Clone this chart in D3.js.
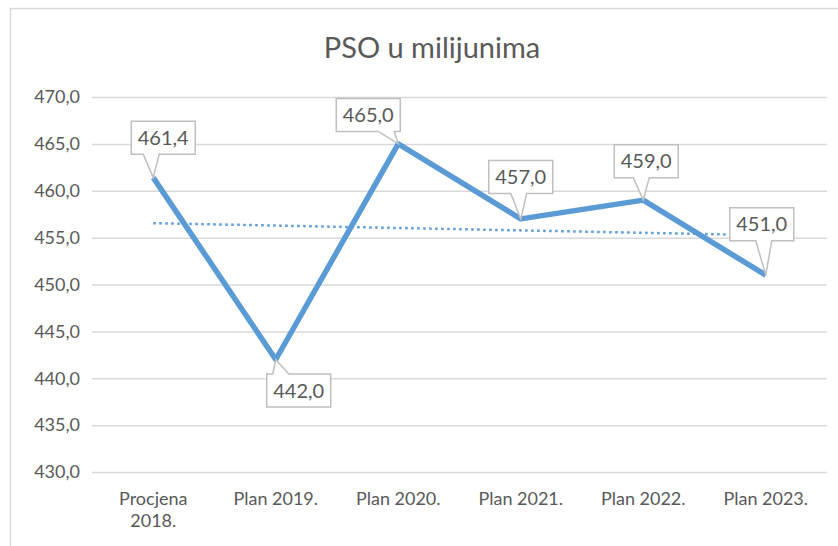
<!DOCTYPE html>
<html>
<head>
<meta charset="utf-8">
<script src="https://cdn.jsdelivr.net/npm/d3@7"></script>
<style>
  html, body { margin: 0; padding: 0; background: #fff; }
  svg { display: block; }
</style>
</head>
<body>
<svg id="chart" width="838" height="546"></svg>
<script>
// ---- data ----
const categories = ["Procjena\n2018.", "Plan 2019.", "Plan 2020.", "Plan 2021.", "Plan 2022.", "Plan 2023."];
const values = [461.4, 442.0, 465.0, 457.0, 459.0, 451.0];
const yTicks = [430, 435, 440, 445, 450, 455, 460, 465, 470];
const title = "PSO u milijunima";

// ---- layout (label callout placement relative to point) ----
const labelOffsets = [[10, -40], [23, 31], [-30, -29], [0, -42], [3, -39], [-4, -51]];

const font = "Lato, 'Open Sans', sans-serif";
const textColor = "#595959";
const lineColor = "#5b9bd5";

const svg = d3.select("#chart");
svg.append("rect").attr("x", 10.5).attr("y", 8.5).attr("width", 850).attr("height", 560)
  .attr("fill", "#fff").attr("stroke", "#d9d9d9").attr("stroke-width", 1.5);

const margin = { left: 92, right: 827, top: 97, bottom: 472 };
const x = d3.scaleBand().domain(categories).range([margin.left, margin.right]);
const y = d3.scaleLinear().domain([430, 470]).range([margin.bottom, margin.top]);

svg.append("text").attr("x", 432).attr("y", 58).attr("text-anchor", "middle")
  .attr("font-family", font).attr("font-size", 29).attr("fill", textColor).text(title);

// grid
const yAxis = d3.axisLeft(y).tickValues(yTicks).tickSize(-(margin.right - margin.left))
  .tickFormat(d => d3.format(".1f")(d).replace(".", ","));
const gy = svg.append("g").attr("transform", `translate(${margin.left},0)`).call(yAxis);
gy.select(".domain").remove();
gy.selectAll(".tick line").attr("stroke", "#d9d9d9").attr("stroke-width", 1.5);
gy.selectAll(".tick text").attr("x", -12).attr("font-family", font).attr("font-size", 18)
  .attr("fill", textColor);

// x axis labels
const xAxis = d3.axisBottom(x).tickSize(0).tickFormat("");
const gx = svg.append("g").attr("transform", `translate(0,${margin.bottom})`).call(xAxis);
gx.select(".domain").remove();
gx.selectAll(".tick").each(function (d) {
  const lines = d.split("\n");
  const t = d3.select(this).append("text").attr("text-anchor", "middle")
    .attr("font-family", font).attr("font-size", 18).attr("fill", textColor);
  lines.forEach((l, i) => t.append("tspan").attr("x", 0).attr("y", 33 + i * 22).text(l));
});

const cx = i => x(categories[i]) + x.bandwidth() / 2;

// trendline (linear regression)
const n = values.length;
const mx = d3.mean(values, (d, i) => i), my = d3.mean(values);
const slope = d3.sum(values, (d, i) => (i - mx) * (d - my)) / d3.sum(values, (d, i) => (i - mx) ** 2);
const icpt = my - slope * mx;
svg.append("line")
  .attr("x1", cx(0)).attr("y1", y(icpt))
  .attr("x2", cx(n - 1)).attr("y2", y(icpt + slope * (n - 1)))
  .attr("stroke", lineColor).attr("stroke-width", 2.5).attr("stroke-dasharray", "2.5 3.5");

// main line
const line = d3.line().x((d, i) => cx(i)).y(d => y(d));
svg.append("path").datum(values).attr("d", line).attr("fill", "none")
  .attr("stroke", lineColor).attr("stroke-width", 5.5).attr("stroke-linejoin", "round");

// callout labels
const bw = 64, bh = 33;
values.forEach((v, i) => {
  const px = cx(i), py = y(v);
  const [dx, dy] = labelOffsets[i];
  const bx = px + dx - bw / 2, by = py + dy - bh / 2;
  const above = dy < 0;
  let b0 = Math.max(bx + 6, Math.min(px - 10, bx + bw - 22));
  let b1 = b0 + 16;
  let p;
  if (above) {
    const yb = by + bh;
    p = `M${bx},${by}H${bx + bw}V${yb}H${b1}L${px},${py}L${b0},${yb}H${bx}Z`;
  } else {
    p = `M${bx},${by}H${b0}L${px},${py}L${b1},${by}H${bx + bw}V${by + bh}H${bx}Z`;
  }
  svg.append("path").attr("d", p).attr("fill", "#fff").attr("stroke", "#bfbfbf").attr("stroke-width", 1.5);
  svg.append("text").attr("x", bx + bw / 2).attr("y", by + bh / 2 + 7).attr("text-anchor", "middle")
    .attr("font-family", font).attr("font-size", 20).attr("fill", textColor)
    .text(d3.format(".1f")(v).replace(".", ","));
});
</script>
</body>
</html>
